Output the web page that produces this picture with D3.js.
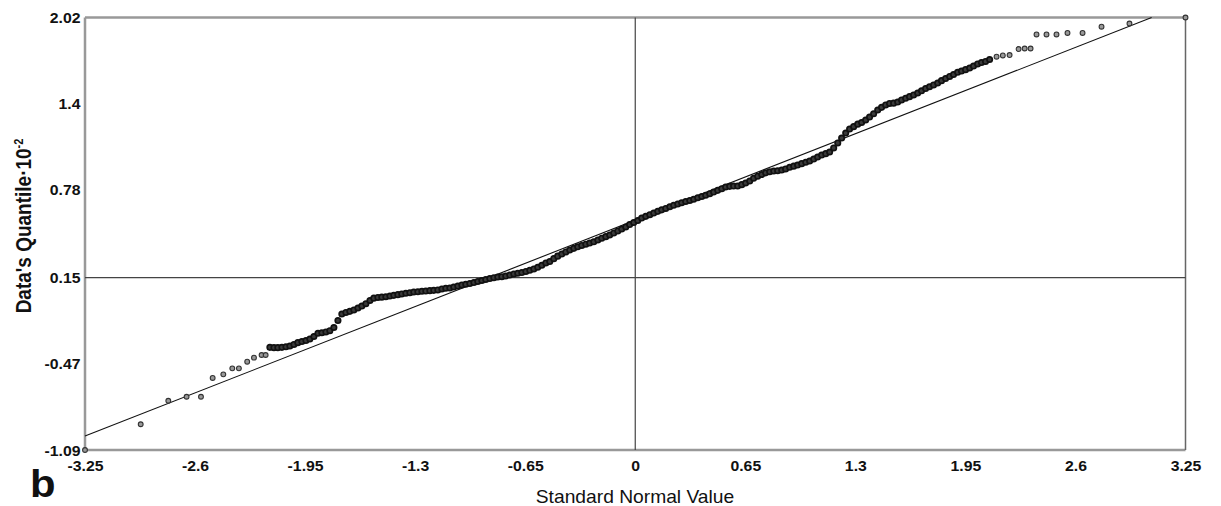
<!DOCTYPE html>
<html>
<head>
<meta charset="utf-8">
<script src="https://cdn.jsdelivr.net/npm/d3@7"></script>
<style>
body { margin: 0; background: #fff; }
svg { display: block; }
text { font-family: "Liberation Sans", Arial, sans-serif; fill: #111; }
</style>
</head>
<body>
<div id="chart"></div>
<script>
const margin = { top: 17.5, right: 35.5, bottom: 56, left: 85 };
const width = 1221 - margin.left - margin.right;
const height = 506 - margin.top - margin.bottom;

const xTicks = [-3.25, -2.6, -1.95, -1.3, -0.65, 0, 0.65, 1.3, 1.95, 2.6, 3.25];
const xTickLabels = ["-3.25", "-2.6", "-1.95", "-1.3", "-0.65", "0", "0.65", "1.3", "1.95", "2.6", "3.25"];
const yTicks = [-1.09, -0.47, 0.15, 0.78, 1.4, 2.02];
const yTickLabels = ["-1.09", "-0.47", "0.15", "0.78", "1.4", "2.02"];

// reference line end points (normal value, quantile)
const refX = [-3.25, 3.05];
const refY = [-0.99, 2.02];

// sample points: theoretical normal value and data quantile (x10^-2)
const leftTailX = [-3.25, -2.921, -2.758, -2.650, -2.565, -2.496, -2.433, -2.380, -2.341, -2.292, -2.252, -2.207, -2.183];
const leftTailY = [-1.09, -0.905, -0.736, -0.707, -0.707, -0.572, -0.546, -0.503, -0.503, -0.455, -0.426, -0.407, -0.407];

const bodyX = [
    -2.158, -2.134, -2.111, -2.087, -2.063, -2.040, -2.016, -1.993, -1.969, -1.945,
    -1.922, -1.898, -1.874, -1.851, -1.827, -1.804, -1.780, -1.756, -1.733, -1.709,
    -1.686, -1.662, -1.638, -1.615, -1.591, -1.567, -1.544, -1.520, -1.497, -1.473,
    -1.449, -1.426, -1.402, -1.379, -1.355, -1.331, -1.308, -1.284, -1.260, -1.237,
    -1.213, -1.190, -1.166, -1.142, -1.119, -1.095, -1.072, -1.048, -1.024, -1.001,
    -0.977, -0.953, -0.930, -0.906, -0.883, -0.859, -0.835, -0.812, -0.788, -0.765,
    -0.741, -0.717, -0.694, -0.670, -0.646, -0.623, -0.599, -0.576, -0.552, -0.528,
    -0.505, -0.481, -0.458, -0.434, -0.410, -0.387, -0.363, -0.340, -0.316, -0.292,
    -0.269, -0.245, -0.221, -0.198, -0.174, -0.151, -0.127, -0.103, -0.080, -0.056,
    -0.033, -0.009, 0.015, 0.038, 0.062, 0.086, 0.109, 0.133, 0.156, 0.180,
    0.204, 0.227, 0.251, 0.274, 0.298, 0.322, 0.345, 0.369, 0.393, 0.416,
    0.440, 0.463, 0.487, 0.511, 0.534, 0.558, 0.581, 0.605, 0.629, 0.652,
    0.676, 0.699, 0.723, 0.747, 0.770, 0.794, 0.818, 0.841, 0.865, 0.888,
    0.912, 0.936, 0.959, 0.983, 1.007, 1.030, 1.054, 1.077, 1.101, 1.125,
    1.148, 1.172, 1.196, 1.219, 1.243, 1.266, 1.290, 1.314, 1.337, 1.361,
    1.384, 1.408, 1.432, 1.455, 1.479, 1.502, 1.526, 1.550, 1.573, 1.597,
    1.620, 1.644, 1.668, 1.691, 1.715, 1.738, 1.762, 1.786, 1.809, 1.833,
    1.857, 1.880, 1.904, 1.927, 1.951, 1.975, 1.998, 2.022, 2.045, 2.069,
    2.093
];
const bodyY = [
    -0.352, -0.354, -0.354, -0.352, -0.348, -0.342, -0.331, -0.318, -0.310, -0.303,
    -0.292, -0.274, -0.251, -0.247, -0.241, -0.232, -0.209, -0.159, -0.112, -0.101,
    -0.093, -0.083, -0.069, -0.055, -0.038, -0.015, 0.002, 0.007, 0.009, 0.012,
    0.017, 0.022, 0.027, 0.032, 0.037, 0.041, 0.046, 0.048, 0.051, 0.053,
    0.056, 0.058, 0.061, 0.068, 0.073, 0.075, 0.082, 0.089, 0.097, 0.102,
    0.107, 0.114, 0.122, 0.129, 0.136, 0.143, 0.149, 0.154, 0.156, 0.161,
    0.168, 0.176, 0.181, 0.186, 0.194, 0.202, 0.212, 0.224, 0.238, 0.255,
    0.265, 0.286, 0.304, 0.319, 0.334, 0.348, 0.360, 0.371, 0.381, 0.390,
    0.398, 0.407, 0.420, 0.433, 0.444, 0.456, 0.470, 0.485, 0.499, 0.514,
    0.531, 0.546, 0.560, 0.578, 0.590, 0.602, 0.614, 0.626, 0.637, 0.647,
    0.659, 0.670, 0.679, 0.688, 0.697, 0.704, 0.713, 0.724, 0.733, 0.742,
    0.753, 0.765, 0.777, 0.789, 0.801, 0.806, 0.808, 0.808, 0.818, 0.830,
    0.844, 0.864, 0.879, 0.891, 0.903, 0.911, 0.916, 0.918, 0.923, 0.931,
    0.943, 0.951, 0.959, 0.969, 0.979, 0.988, 1.002, 1.017, 1.031, 1.041,
    1.053, 1.082, 1.118, 1.153, 1.189, 1.218, 1.235, 1.253, 1.265, 1.283,
    1.304, 1.328, 1.355, 1.374, 1.391, 1.402, 1.404, 1.412, 1.427, 1.439,
    1.451, 1.463, 1.477, 1.493, 1.509, 1.522, 1.535, 1.549, 1.566, 1.581,
    1.596, 1.610, 1.626, 1.635, 1.645, 1.657, 1.671, 1.686, 1.696, 1.704,
    1.718
];

const rightTailX = [2.134, 2.171, 2.211, 2.264, 2.300, 2.335, 2.370, 2.429, 2.488, 2.553, 2.642, 2.754, 2.919, 3.25];
const rightTailY = [1.738, 1.747, 1.750, 1.793, 1.797, 1.797, 1.898, 1.898, 1.898, 1.909, 1.909, 1.954, 1.977, 2.02];

function createQQPlot() {
    const svg = d3.select("#chart")
        .append("svg")
        .attr("width", 1221)
        .attr("height", 506);

    const g = svg.append("g")
        .attr("transform", `translate(${margin.left},${margin.top})`);

    const x = d3.scaleLinear().domain([-3.25, 3.25]).range([0, width]);
    const y = d3.scaleLinear().domain([-1.09, 2.02]).range([height, 0]);

    const tails = leftTailX.map((v, i) => ({ z: v, q: leftTailY[i] }))
        .concat(rightTailX.map((v, i) => ({ z: v, q: rightTailY[i] })));
    const body = bodyX.map((v, i) => ({ z: v, q: bodyY[i] }));

    // frame
    g.append("line").attr("x1", 0).attr("x2", width).attr("y1", 0).attr("y2", 0)
        .style("stroke", "#999").style("stroke-width", 2.5);
    g.append("line").attr("x1", 0).attr("x2", 0).attr("y1", 0).attr("y2", height)
        .style("stroke", "#999").style("stroke-width", 2.5);
    g.append("line").attr("x1", 0).attr("x2", width).attr("y1", height).attr("y2", height)
        .style("stroke", "#999").style("stroke-width", 2.5);
    g.append("line").attr("x1", width).attr("x2", width).attr("y1", 0).attr("y2", height)
        .style("stroke", "#666").style("stroke-width", 1.5);

    // cross lines through 0 and 0.15
    g.append("line")
        .attr("x1", x(0)).attr("x2", x(0)).attr("y1", 0).attr("y2", height)
        .style("stroke", "#444").style("stroke-width", 1.2);
    g.append("line")
        .attr("x1", 0).attr("x2", width).attr("y1", y(0.15)).attr("y2", y(0.15))
        .style("stroke", "#444").style("stroke-width", 1.2);

    // reference line
    g.append("path")
        .datum(refX.map((v, i) => [v, refY[i]]))
        .attr("d", d3.line().x(d => x(d[0])).y(d => y(d[1])))
        .style("fill", "none")
        .style("stroke", "#111")
        .style("stroke-width", 1.1);

    g.selectAll(".tail-dot")
        .data(tails)
        .enter()
        .append("circle")
        .attr("class", "tail-dot")
        .attr("cx", d => x(d.z))
        .attr("cy", d => y(d.q))
        .attr("r", 2.4)
        .style("fill", "#999")
        .style("stroke", "#333")
        .style("stroke-width", 1.1);

    g.selectAll(".dot")
        .data(body)
        .enter()
        .append("circle")
        .attr("class", "dot")
        .attr("cx", d => x(d.z))
        .attr("cy", d => y(d.q))
        .attr("r", 2.7)
        .style("fill", "#3a3a3a")
        .style("stroke", "#111")
        .style("stroke-width", 1.7);

    const xAxis = g.append("g")
        .attr("transform", `translate(0,${height})`)
        .call(d3.axisBottom(x).tickValues(xTicks).tickSize(0).tickPadding(0)
            .tickFormat((d, i) => xTickLabels[i]));
    xAxis.select(".domain").remove();
    xAxis.selectAll("text")
        .attr("y", 21)
        .attr("dy", 0)
        .attr("transform", "scale(1.13,1)")
        .style("font-size", "14px")
        .style("font-weight", "bold")
        .style("font-family", "'Liberation Sans', Arial, sans-serif")
        .style("fill", "#111");

    const yAxis = g.append("g")
        .call(d3.axisLeft(y).tickValues(yTicks).tickSize(0).tickPadding(0)
            .tickFormat((d, i) => yTickLabels[i]));
    yAxis.select(".domain").remove();
    yAxis.selectAll("text")
        .attr("x", -4)
        .attr("dy", "0.36em")
        .attr("transform", "scale(1.13,1)")
        .style("font-size", "14px")
        .style("font-weight", "bold")
        .style("font-family", "'Liberation Sans', Arial, sans-serif")
        .style("fill", "#111");

    svg.append("text")
        .attr("transform", "translate(635,503) scale(1.1,1)")
        .attr("text-anchor", "middle")
        .style("font-size", "17.5px")
        .text("Standard Normal Value");

    const yLabel = svg.append("text")
        .attr("transform", "translate(30.5,226) scale(1.13,1) rotate(-90)")
        .attr("text-anchor", "middle")
        .style("font-size", "19px")
        .style("font-weight", "bold");
    yLabel.append("tspan").text("Data's Quantile\u00b710");
    yLabel.append("tspan").attr("dy", -7).style("font-size", "11px").text("-2");

    svg.append("text")
        .attr("transform", "translate(30,497) scale(1.1,1)")
        .style("font-size", "38px")
        .style("font-weight", "bold")
        .text("b");
}

document.addEventListener("DOMContentLoaded", function() {
    createQQPlot();
});
</script>
</body>
</html>
